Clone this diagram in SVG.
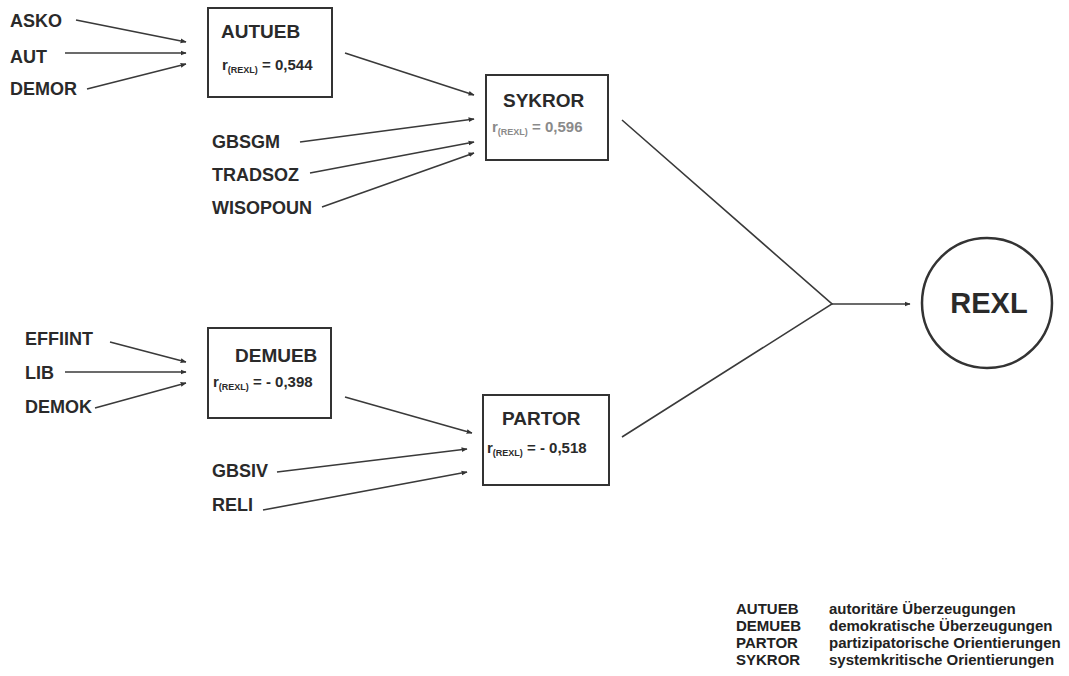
<svg xmlns="http://www.w3.org/2000/svg" width="1069" height="676" viewBox="0 0 1069 676">
<style>
text{font-family:"Liberation Sans",Arial,sans-serif;font-weight:bold;fill:#2a2a2a}
.lbl{font-size:18px}
.ttl{font-size:19px}
.rv{font-size:15px}
.sub{font-size:9px}
.gray{fill:#8a8a8a}
.box{fill:#fff;stroke:#333;stroke-width:2}
.con{stroke:#3a3a3a;stroke-width:1.6;fill:none}
.leg{font-size:15px;fill:#222}
</style>
<defs>
<marker id="ah" viewBox="0 0 10 10" refX="9" refY="5" markerWidth="6" markerHeight="6" markerUnits="userSpaceOnUse" orient="auto">
<path d="M0,1 L10,5 L0,9 z" fill="#333"/>
</marker>
</defs>
<rect width="1069" height="676" fill="#fff"/>
<g id="connectors">
<line class="con" x1="76" y1="20" x2="186" y2="42" marker-end="url(#ah)"/>
<line class="con" x1="65" y1="53" x2="186" y2="53" marker-end="url(#ah)"/>
<line class="con" x1="87" y1="89" x2="186" y2="64" marker-end="url(#ah)"/>
<line class="con" x1="345" y1="53" x2="474" y2="95" marker-end="url(#ah)"/>
<line class="con" x1="300" y1="142" x2="474" y2="119" marker-end="url(#ah)"/>
<line class="con" x1="310" y1="173" x2="474" y2="142" marker-end="url(#ah)"/>
<line class="con" x1="322" y1="207" x2="474" y2="153" marker-end="url(#ah)"/>
<line class="con" x1="110" y1="342" x2="186" y2="362" marker-end="url(#ah)"/>
<line class="con" x1="65" y1="372" x2="186" y2="372" marker-end="url(#ah)"/>
<line class="con" x1="95" y1="408" x2="186" y2="383" marker-end="url(#ah)"/>
<line class="con" x1="345" y1="397" x2="472" y2="433" marker-end="url(#ah)"/>
<line class="con" x1="277" y1="472" x2="467" y2="449" marker-end="url(#ah)"/>
<line class="con" x1="263" y1="510" x2="467" y2="472" marker-end="url(#ah)"/>
<polyline class="con" points="622,120 832,304 622,437"/>
<line class="con" x1="832" y1="304" x2="910" y2="304" marker-end="url(#ah)"/>
</g>
<g id="inputs">
<text class="lbl" x="10" y="27">ASKO</text>
<text class="lbl" x="10" y="63">AUT</text>
<text class="lbl" x="10" y="95">DEMOR</text>
<text class="lbl" x="212" y="148">GBSGM</text>
<text class="lbl" x="212" y="181">TRADSOZ</text>
<text class="lbl" x="212" y="214">WISOPOUN</text>
<text class="lbl" x="25" y="345">EFFIINT</text>
<text class="lbl" x="25" y="379">LIB</text>
<text class="lbl" x="25" y="413">DEMOK</text>
<text class="lbl" x="212" y="477">GBSIV</text>
<text class="lbl" x="212" y="511">RELI</text>
</g>
<g id="AUTUEB">
<rect class="box" x="208" y="8" width="124" height="89"/>
<text class="ttl" x="221" y="38">AUTUEB</text>
<text class="rv" x="222" y="70">r<tspan class="sub" dy="3">(REXL)</tspan><tspan dy="-3"> = 0,544</tspan></text>
</g>
<g id="SYKROR">
<rect class="box" x="486" y="75" width="122" height="85"/>
<text class="ttl" x="503" y="107">SYKROR</text>
<text class="rv gray" x="492" y="132">r<tspan class="sub gray" dy="3">(REXL)</tspan><tspan dy="-3"> = 0,596</tspan></text>
</g>
<g id="DEMUEB">
<rect class="box" x="208" y="328" width="123" height="90"/>
<text class="ttl" x="235" y="362">DEMUEB</text>
<text class="rv" x="213" y="387">r<tspan class="sub" dy="3">(REXL)</tspan><tspan dy="-3"> =  - 0,398</tspan></text>
</g>
<g id="PARTOR">
<rect class="box" x="483" y="395" width="126" height="90"/>
<text class="ttl" x="502" y="425">PARTOR</text>
<text class="rv" x="487" y="453">r<tspan class="sub" dy="3">(REXL)</tspan><tspan dy="-3"> = - 0,518</tspan></text>
</g>
<g id="REXL">
<circle cx="987" cy="303" r="65" fill="#fff" stroke="#333" stroke-width="2.5"/>
<text x="989" y="313" text-anchor="middle" style="font-size:29px">REXL</text>
</g>
<g id="legend">
<text class="leg" x="736" y="614">AUTUEB</text>
<text class="leg" x="736" y="631">DEMUEB</text>
<text class="leg" x="736" y="648">PARTOR</text>
<text class="leg" x="736" y="665">SYKROR</text>
<text class="leg" x="829" y="614">autoritäre Überzeugungen</text>
<text class="leg" x="829" y="631">demokratische Überzeugungen</text>
<text class="leg" x="829" y="648">partizipatorische Orientierungen</text>
<text class="leg" x="829" y="665">systemkritische Orientierungen</text>
</g>
</svg>
